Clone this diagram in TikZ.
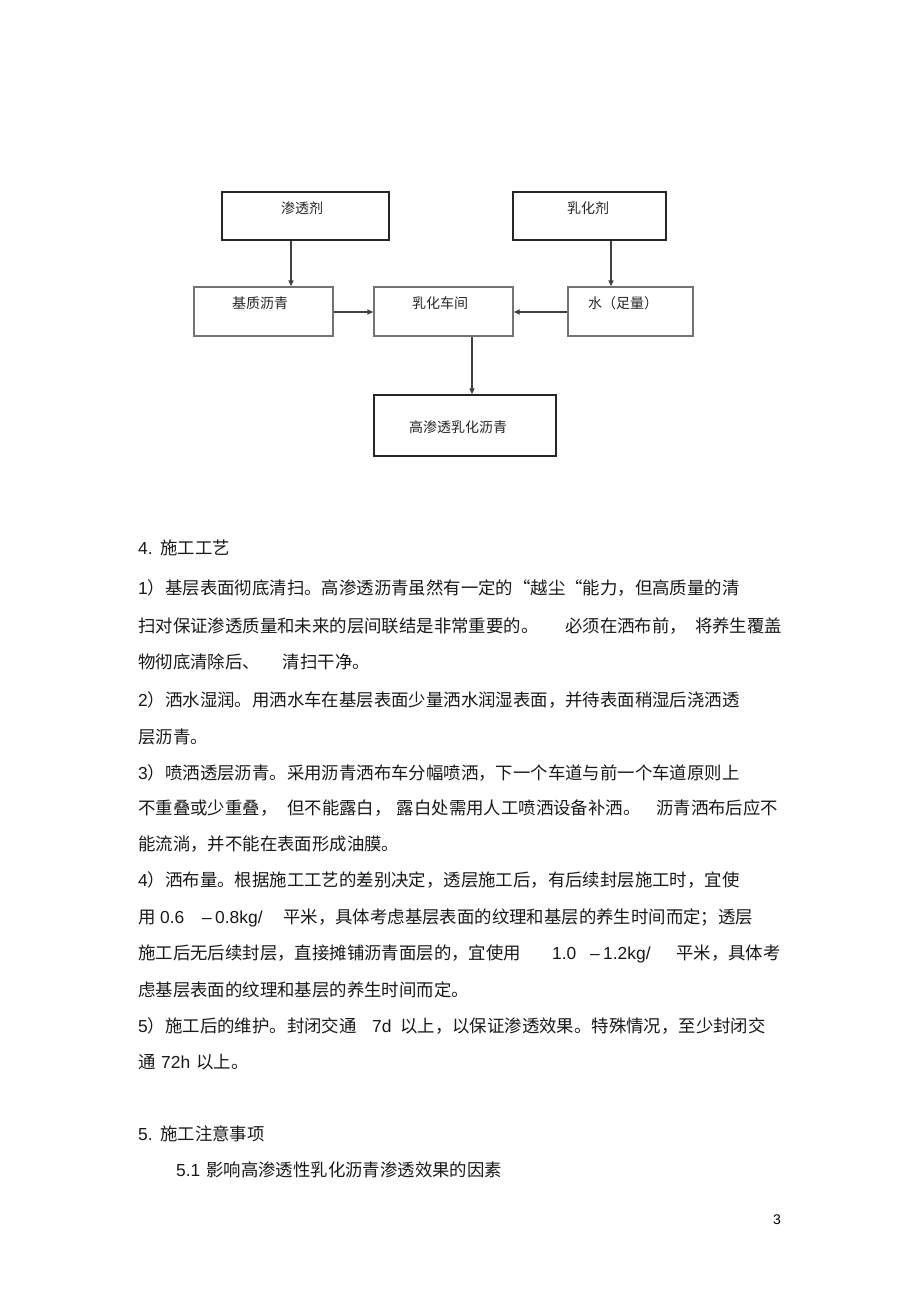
\documentclass[tikz,border=0pt]{standalone}
\usepackage{fontspec}
\setmainfont{Noto Sans CJK SC}
\newfontfamily\latf{Liberation Sans}
\newcommand\lt[1]{{\latf #1}}
\usetikzlibrary{arrows.meta}
\begin{document}
\begin{tikzpicture}[x=1pt,y=-1pt,
  heavybox/.style={draw=black!85, line width=1.5pt, inner sep=0pt},
  lightbox/.style={draw=black!55, line width=1.4pt, inner sep=0pt},
  boxlbl/.style={font=\fontsize{14}{16}\selectfont, inner sep=0pt, text=black!85},
  arr/.style={draw=black!75, line width=1.4pt, -{Triangle[length=6pt,width=5pt]}},
  body/.style={anchor=base west, inner sep=0pt, font=\fontsize{17.4}{20}\selectfont, text=black!90}]
\useasboundingbox[fill=white] (0,0) rectangle (920,1301);

% flowchart boxes
\node[heavybox, minimum width=167pt, minimum height=48pt] (A) at (305.5,216) {};
\node[heavybox, minimum width=153pt, minimum height=48pt] (B) at (589.5,216) {};
\node[lightbox, minimum width=139pt, minimum height=49pt] (C) at (263.5,311.5) {};
\node[lightbox, minimum width=139pt, minimum height=49pt] (D) at (443.5,311.5) {};
\node[lightbox, minimum width=125pt, minimum height=49pt] (E) at (630.5,311.5) {};
\node[heavybox, minimum width=182pt, minimum height=61pt] (F) at (465,425.5) {};

\node[boxlbl] (lA) at (302,208) {渗透剂};
\node[boxlbl] (lB) at (588,208) {乳化剂};
\node[boxlbl] (lC) at (260,303) {基质沥青};
\node[boxlbl] (lD) at (440,303) {乳化车间};
\node[boxlbl] (lE) at (623,303) {水（足量）};
\node[boxlbl] (lF) at (458,427) {高渗透乳化沥青};

% connector columns/rows
\coordinate (xa) at (291,0);
\coordinate (xb) at (611,0);
\coordinate (xd) at (472,0);
\coordinate (ym) at (0,312);

\draw[arr] (A.south -| xa) -- (C.north -| xa);
\draw[arr] (B.south -| xb) -- (E.north -| xb);
\draw[arr] (C.east |- ym) -- (D.west |- ym);
\draw[arr] (E.west |- ym) -- (D.east |- ym);
\draw[arr] (D.south -| xd) -- (F.north -| xd);

% body text
\node[body] (h4a) at (138,554.6) {\lt{4.}};
\node[body] (h4b) at (160,554.6) {施工工艺};

\node[body] (t1) at (138,594.6) {\lt{1}）基层表面彻底清扫。高渗透沥青虽然有一定的“越尘“能力，但高质量的清};
\node[body] (t2) at (138,632.6) {扫对保证渗透质量和未来的层间联结是非常重要的。\hspace{27pt}必须在洒布前，\hspace{8pt}将养生覆盖};
\node[body] (t3) at (138,668.6) {物彻底清除后、\hspace{23pt}清扫干净。};
\node[body] (t4) at (138,706.6) {\lt{2}）洒水湿润。用洒水车在基层表面少量洒水润湿表面，并待表面稍湿后浇洒透};
\node[body] (t5) at (138,743.6) {层沥青。};
\node[body] (t6) at (138,779.6) {\lt{3}）喷洒透层沥青。采用沥青洒布车分幅喷洒，下一个车道与前一个车道原则上};
\node[body] (t7) at (138,814.6) {不重叠或少重叠，\hspace{10pt}但不能露白，\hspace{5pt}露白处需用人工喷洒设备补洒。\hspace{16pt}沥青洒布后应不};
\node[body] (t8) at (138,850.6) {能流淌，并不能在表面形成油膜。};
\node[body] (t9) at (138,886.6) {\lt{4}）洒布量。根据施工工艺的差别决定，透层施工后，有后续封层施工时，宜使};

\node[body] (t10a) at (138,923.6) {用};
\node[body] (t10b) at (160,923.6) {\lt{0.6}};
\node[body] (t10c) at (202,923.6) {\lt{–}};
\node[body] (t10d) at (215,923.6) {\lt{0.8kg/}};
\node[body] (t10e) at (283,923.6) {平米，具体考虑基层表面的纹理和基层的养生时间而定；透层};

\node[body] (t11a) at (138,959.6) {施工后无后续封层，直接摊铺沥青面层的，宜使用};
\node[body] (t11b) at (552,959.6) {\lt{1.0}};
\node[body] (t11c) at (590,959.6) {\lt{–}};
\node[body] (t11d) at (603,959.6) {\lt{1.2kg/}};
\node[body] (t11e) at (676,959.6) {平米，具体考};

\node[body] (t12) at (138,996.6) {虑基层表面的纹理和基层的养生时间而定。};

\node[body] (t13a) at (138,1032.6) {\lt{5}）施工后的维护。封闭交通};
\node[body] (t13b) at (372,1032.6) {\lt{7d}};
\node[body] (t13c) at (400,1032.6) {以上，以保证渗透效果。特殊情况，至少封闭交};

\node[body] (t14a) at (138,1068.6) {通};
\node[body] (t14b) at (161,1068.6) {\lt{72h}};
\node[body] (t14c) at (196,1068.6) {以上。};

\node[body] (h5a) at (138,1140.6) {\lt{5.}};
\node[body] (h5b) at (160,1140.6) {施工注意事项};
\node[body] (h51a) at (176,1176.6) {\lt{5.1}};
\node[body] (h51b) at (206,1176.6) {影响高渗透性乳化沥青渗透效果的因素};

\node[anchor=base, inner sep=0pt, font=\latf\fontsize{14}{16}\selectfont] (pg) at (777,1224) {3};
\end{tikzpicture}
\end{document}
